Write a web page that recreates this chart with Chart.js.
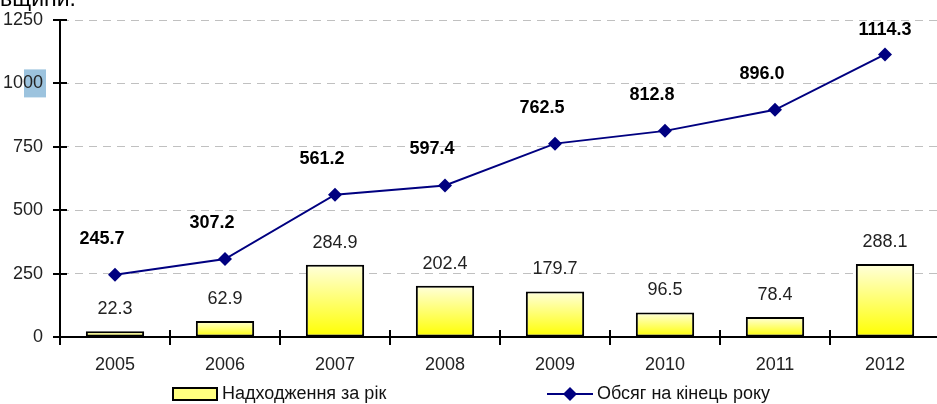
<!DOCTYPE html>
<html>
<head>
<meta charset="utf-8">
<script src="https://cdn.jsdelivr.net/npm/chart.js@4"></script>
<style>
  html, body { margin: 0; padding: 0; background: #fff; overflow: hidden; width: 937px; height: 404px; }
  #wrap { position: absolute; left: 0; top: 0; width: 950px; height: 404px; }
  #cap { position: absolute; left: 0; top: -15px; font: 23px "Liberation Sans", Arial, sans-serif; color: #000; white-space: nowrap; }
</style>
</head>
<body>
<div id="wrap"><canvas id="chart" width="950" height="404"></canvas></div>
<div id="cap">вщини.</div>
<script>
var years = ['2005', '2006', '2007', '2008', '2009', '2010', '2011', '2012'];
var yearlyInflow = [22.3, 62.9, 284.9, 202.4, 179.7, 96.5, 78.4, 288.1];
var yearEndVolume = [245.7, 307.2, 561.2, 597.4, 762.5, 812.8, 896.0, 1114.3];
var yTicks = [0, 250, 500, 750, 1000, 1250];
var barName = 'Надходження за рік';
var lineName = 'Обсяг на кінець року';

var FONT = '"Liberation Sans", Arial, sans-serif';

function barGradient(c) {
    var chart = c.chart;
    if (!chart.chartArea || c.raw === undefined) return '#ffff66';
    var y = chart.scales.y;
    var top = y.getPixelForValue(c.raw);
    var bottom = y.getPixelForValue(0);
    var g = chart.ctx.createLinearGradient(0, top, 0, bottom);
    g.addColorStop(0, '#ffffdc');
    g.addColorStop(1, '#ffff00');
    return g;
}

// axis tick marks, value labels and the legend
var extras = {
    id: 'extras',
    beforeDraw: function (chart) {
        var ctx = chart.ctx;
        var y = chart.scales.y;
        var yp = y.getPixelForValue(1000);
        ctx.save();
        ctx.fillStyle = '#9cc3de';
        ctx.fillRect(chart.chartArea.left - 36, yp - 14, 22, 28);
        ctx.restore();
    },
    afterDraw: function (chart) {
        var ctx = chart.ctx;
        var area = chart.chartArea;
        var x = chart.scales.x;
        var y = chart.scales.y;
        ctx.save();

        // tick marks crossing the axes
        ctx.strokeStyle = '#000';
        ctx.lineWidth = 2;
        ctx.beginPath();
        yTicks.forEach(function (v) {
            var py = Math.round(y.getPixelForValue(v));
            ctx.moveTo(area.left - 7, py);
            ctx.lineTo(area.left + 7, py);
        });
        var step = x.getPixelForValue(1) - x.getPixelForValue(0);
        for (var i = 0; i <= years.length; i++) {
            var px = Math.round(x.getPixelForValue(0) - step / 2 + i * step);
            ctx.moveTo(px, area.bottom - 7);
            ctx.lineTo(px, area.bottom + 8);
        }
        ctx.stroke();

        // bar value labels
        var barMeta = chart.getDatasetMeta(0);
        ctx.font = '18px ' + FONT;
        ctx.fillStyle = '#222';
        ctx.textAlign = 'center';
        ctx.textBaseline = 'middle';
        barMeta.data.forEach(function (el, i) {
            ctx.fillText(yearlyInflow[i].toFixed(1), el.x, el.y - 22);
        });

        // line value labels
        var lineMeta = chart.getDatasetMeta(1);
        ctx.font = 'bold 18px ' + FONT;
        ctx.fillStyle = '#000';
        lineMeta.data.forEach(function (el, i) {
            var ly = Math.max(el.y - 36, 30);
            var lx = i === years.length - 1 ? el.x : el.x - 13;
            ctx.fillText(yearEndVolume[i].toFixed(1), lx, ly);
        });

        // legend
        var ly0 = 394;
        ctx.fillStyle = '#ffff80';
        ctx.strokeStyle = '#000';
        ctx.lineWidth = 2;
        ctx.fillRect(173, ly0 - 6, 44, 12);
        ctx.strokeRect(173, ly0 - 6, 44, 12);
        ctx.font = '18px ' + FONT;
        ctx.fillStyle = '#111';
        ctx.textAlign = 'left';
        ctx.fillText(barName, 222, ly0);

        ctx.strokeStyle = '#000080';
        ctx.lineWidth = 2;
        ctx.beginPath();
        ctx.moveTo(547, ly0);
        ctx.lineTo(593, ly0);
        ctx.stroke();
        ctx.fillStyle = '#000080';
        ctx.beginPath();
        ctx.moveTo(570, ly0 - 7);
        ctx.lineTo(577, ly0);
        ctx.lineTo(570, ly0 + 7);
        ctx.lineTo(563, ly0);
        ctx.closePath();
        ctx.fill();
        ctx.fillStyle = '#111';
        ctx.fillText(lineName, 597, ly0);

        ctx.restore();
    }
};

new Chart(document.getElementById('chart'), {
    type: 'bar',
    data: {
        labels: years,
        datasets: [{
            type: 'bar',
            label: barName,
            data: yearlyInflow,
            backgroundColor: barGradient,
            borderColor: '#000',
            borderWidth: 2,
            borderSkipped: false,
            categoryPercentage: 1,
            barPercentage: 0.53,
            order: 2
        }, {
            type: 'line',
            label: lineName,
            data: yearEndVolume,
            borderColor: '#000080',
            borderWidth: 2,
            backgroundColor: '#000080',
            pointStyle: 'rectRot',
            pointRadius: 7,
            pointBorderWidth: 0,
            tension: 0,
            clip: false,
            order: 1
        }]
    },
    options: {
        responsive: false,
        animation: false,
        layout: { padding: { top: 20, right: 10, bottom: 27, left: 0 } },
        plugins: {
            legend: { display: false },
            tooltip: { enabled: false }
        },
        scales: {
            x: {
                grid: { display: false, drawTicks: false },
                border: { color: '#000', width: 2 },
                ticks: { color: '#222', font: { family: FONT, size: 18 }, padding: 17, autoSkip: false, maxRotation: 0 },
                afterFit: function (s) { s.height = 40; s.paddingLeft = 0; s.paddingRight = 0; }
            },
            y: {
                min: 0,
                max: 1250,
                afterBuildTicks: function (s) {
                    s.ticks = yTicks.map(function (v) { return { value: v }; });
                },
                grid: { color: '#c0c0c0', lineWidth: 1, drawTicks: false },
                border: { color: '#000', width: 2, dash: [8, 6] },
                ticks: {
                    color: '#222',
                    font: { family: FONT, size: 18 },
                    padding: 17,
                    callback: function (v) { return String(v); }
                },
                afterFit: function (s) { s.width = 60; s.paddingTop = 0; s.paddingBottom = 0; }
            }
        }
    },
    plugins: [extras]
});
</script>
</body>
</html>
